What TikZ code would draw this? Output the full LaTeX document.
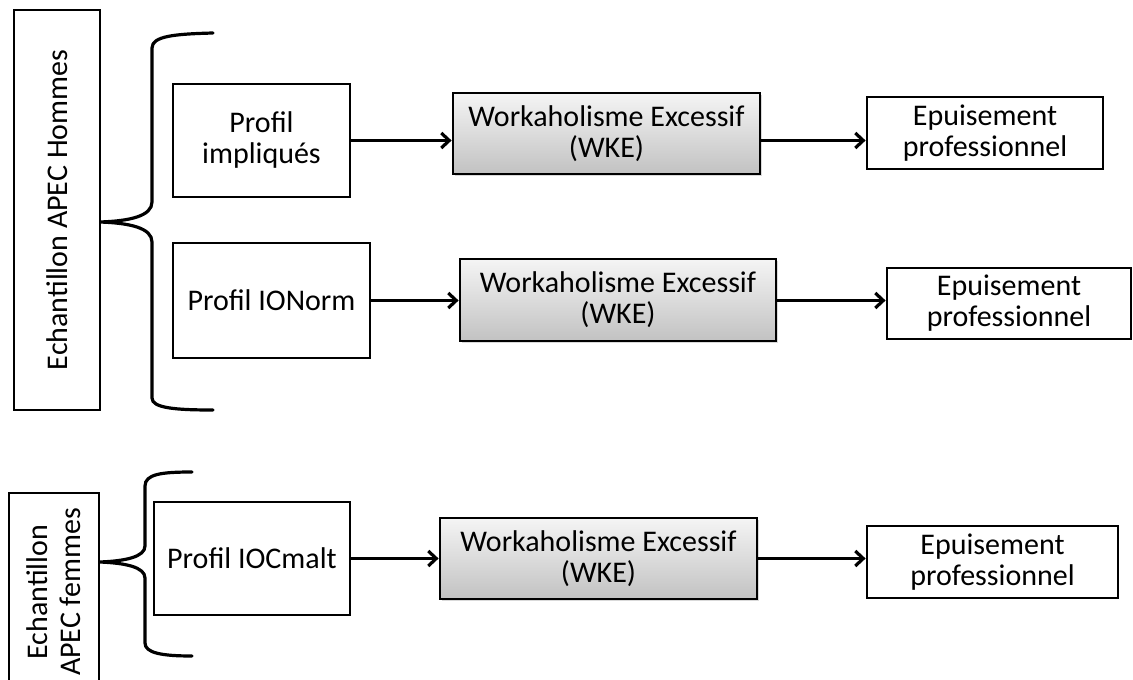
\documentclass[tikz,border=0pt]{standalone}
\usepackage{fontspec}
\setmainfont{Carlito}
\usetikzlibrary{arrows.meta,shadows,calc}

\begin{document}
\begin{tikzpicture}[x=1pt,y=-1pt,
 box/.style={draw, line width=2.8pt, align=center, inner sep=0pt, font=\fontsize{30}{31}\selectfont},
 wke/.style={box, top color=black!4, bottom color=black!24, drop shadow={shadow xshift=2pt, shadow yshift=-2pt, opacity=0.3}},
 arr/.style={line width=3.2pt, -{Straight Barb[length=8pt,width=15pt,line width=3.2pt]}},
 brace/.style={line width=3.2pt, line cap=round}]
\useasboundingbox (0,0) rectangle (1133,680);

% group 1
\node[box, rotate=90, minimum width=400pt, minimum height=86pt] (hom) at (57,210) {Echantillon APEC Hommes};
\node[box, minimum width=177pt, minimum height=113pt] (p1) at (261.5,140.5) {Profil\\impliqués};
\node[wke, minimum width=307pt, minimum height=81pt] (w1) at (606.5,133.5) {Workaholisme Excessif\\(WKE)};
\node[box, minimum width=236pt, minimum height=72pt] (e1) at (985,133) {Epuisement\\professionnel};

\node[box, minimum width=197pt, minimum height=115pt] (p2) at (271.5,300.5) {Profil IONorm};
\node[wke, minimum width=316pt, minimum height=82pt] (w2) at (618,300) {Workaholisme Excessif\\(WKE)};
\node[box, minimum width=244pt, minimum height=71pt] (e2) at (1009,303.5) {Epuisement\\professionnel};

% group 2
\node[box, rotate=90, minimum width=198pt, minimum height=90pt, font=\fontsize{30}{33}\selectfont] (fem) at (54,592) {Echantillon\\APEC femmes};
\node[box, minimum width=196pt, minimum height=113pt] (p3) at (252,558.5) {Profil IOCmalt};
\node[wke, minimum width=317pt, minimum height=81pt] (w3) at (598.5,558.5) {Workaholisme Excessif\\(WKE)};
\node[box, minimum width=251pt, minimum height=72pt] (e3) at (992.5,562) {Epuisement\\professionnel};

% arrows
\draw[arr] (p1.east) -- (p1.east -| w1.west);
\draw[arr] (w1.east |- p1.east) -- (e1.west |- p1.east);
\draw[arr] (p2.east) -- (p2.east -| w2.west);
\draw[arr] (w2.east |- p2.east) -- (e2.west |- p2.east);
\draw[arr] (p3.east) -- (p3.east -| w3.west);
\draw[arr] (w3.east |- p3.east) -- (e3.west |- p3.east);

% braces
\draw[brace] (213,33) .. controls (175,34) and (152,36) .. (152,48) -- (152,202)
  .. controls (152,216) and (130,221) .. (100,222)
  .. controls (130,223) and (152,228) .. (152,242) -- (152,398)
  .. controls (152,408) and (175,410) .. (213,410);
\draw[brace] (192,472) .. controls (162,472) and (145,474) .. (145,486) -- (145,546)
  .. controls (145,557) and (125,561) .. (100,562)
  .. controls (125,563) and (145,567) .. (145,578) -- (145,643)
  .. controls (145,653) and (162,656) .. (192,656);
\end{tikzpicture}
\end{document}
